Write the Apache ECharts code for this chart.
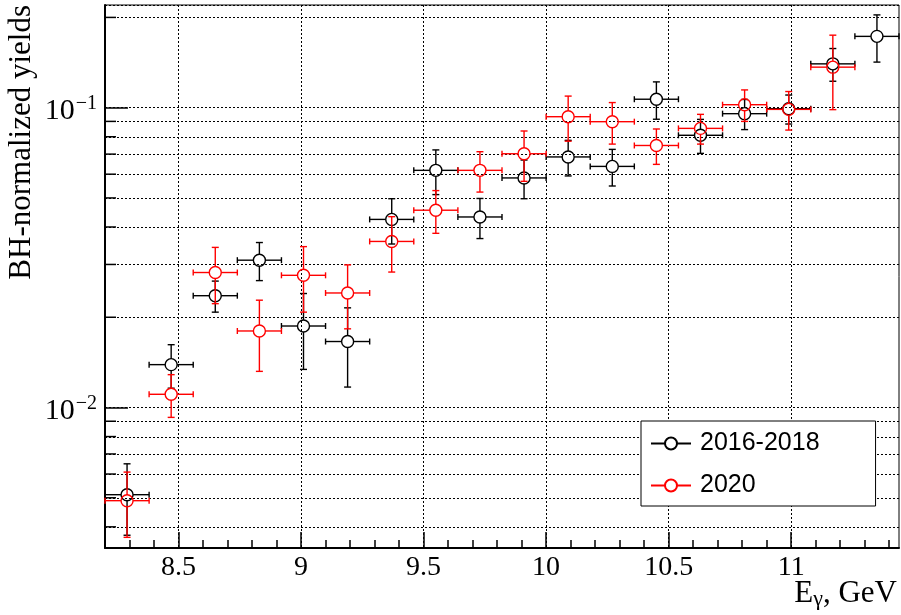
<!DOCTYPE html>
<html>
<head>
<meta charset="utf-8">
<script src="https://cdn.jsdelivr.net/npm/echarts@6/dist/echarts.min.js"></script>
<style>
  html, body { margin: 0; padding: 0; background: #fff; }
  #chart { width: 901px; height: 615px; }
</style>
</head>
<body>
<div id="chart"></div>
<script>
// Photon-energy bin centres (GeV); every bin is 0.18 GeV wide
const energies = [8.29, 8.47, 8.65, 8.83, 9.01, 9.19, 9.37, 9.55, 9.73, 9.91,
                  10.09, 10.27, 10.45, 10.63, 10.81, 10.99, 11.17, 11.35];
const binHalfWidth = 0.09;

// 2016-2018 run: BH-normalized yields and their uncertainties
const yields2016 = [0.00512, 0.0139, 0.0236, 0.0310, 0.0187, 0.0166, 0.0424, 0.0618, 0.0432, 0.0583,
                    0.0685, 0.0637, 0.1067, 0.0809, 0.0955, 0.0992, 0.1400, 0.1729];
const errors2016 = [0.00137, 0.0023, 0.0028, 0.0045, 0.0053, 0.0049, 0.0073, 0.0105, 0.0066, 0.0086,
                    0.0093, 0.0089, 0.0152, 0.0105, 0.0110, 0.0110, 0.0175, 0.0310];

// 2020 run
const yields2020 = [0.00489, 0.01107, 0.0282, 0.0180, 0.0276, 0.0241, 0.0358, 0.0455, 0.0618, 0.0702,
                    0.0933, 0.0898, 0.0748, 0.0853, 0.1023, 0.0987, 0.1365];
const errors2020 = [0.0012, 0.0018, 0.0060, 0.0048, 0.0068, 0.0058, 0.0075, 0.0074, 0.0095, 0.0134,
                    0.0160, 0.0142, 0.0101, 0.0097, 0.0123, 0.0145, 0.0380];

// Axis ranges and tick positions
const xRange = [8.2, 11.44];
const yRange = [0.0034, 0.22];
const xMajorTicks = [8.5, 9, 9.5, 10, 10.5, 11];
const xMinorTicks = [8.3, 8.4, 8.6, 8.7, 8.8, 8.9, 9.1, 9.2, 9.3, 9.4, 9.6, 9.7, 9.8, 9.9,
                     10.1, 10.2, 10.3, 10.4, 10.6, 10.7, 10.8, 10.9, 11.1, 11.2, 11.3, 11.4];
const yMinorTicks = [0.004, 0.005, 0.006, 0.007, 0.008, 0.009,
                     0.02, 0.03, 0.04, 0.05, 0.06, 0.07, 0.08, 0.09, 0.2];

const seriesNames = ['2016-2018', '2020'];
const seriesColors = ['#000000', '#ff0000'];

const dotted = { color: '#000', width: 1, type: [2, 2] };
const serif = '"Liberation Serif", "Times New Roman", serif';

// Open-circle marker with x/y error bars (bars stop at the marker edge)
function errorBarSeries(name, color, ys, es) {
  return {
    type: 'custom',
    name: name + ' points',
    coordinateSystem: 'cartesian2d',
    data: ys.map((y, i) => [energies[i], y, es[i]]),
    encode: { x: 0, y: 1 },
    z: 5,
    renderItem: function (params, api) {
      const x = api.value(0), y = api.value(1), e = api.value(2);
      const c = api.coord([x, y]);
      const l = api.coord([x - binHalfWidth, y]);
      const r = api.coord([x + binHalfWidth, y]);
      const t = api.coord([x, y + e]);
      const b = api.coord([x, y - e]);
      const R = 6, capH = 3, capV = 3.5;
      const st = { stroke: color, lineWidth: 1.4, fill: 'none' };
      const kids = [];
      const seg = (x1, y1, x2, y2) => kids.push({ type: 'line', shape: { x1, y1, x2, y2 }, style: st });
      if (c[0] - l[0] > R) seg(l[0], c[1], c[0] - R, c[1]);
      if (r[0] - c[0] > R) seg(c[0] + R, c[1], r[0], c[1]);
      seg(l[0], c[1] - capH, l[0], c[1] + capH);
      seg(r[0], c[1] - capH, r[0], c[1] + capH);
      if (c[1] - t[1] > R) seg(c[0], t[1], c[0], c[1] - R);
      if (b[1] - c[1] > R) seg(c[0], c[1] + R, c[0], b[1]);
      seg(c[0] - capV, t[1], c[0] + capV, t[1]);
      seg(c[0] - capV, b[1], c[0] + capV, b[1]);
      kids.push({ type: 'circle', shape: { cx: c[0], cy: c[1], r: R }, style: st });
      return { type: 'group', children: kids };
    }
  };
}

const chart = echarts.init(document.getElementById('chart'), null, { renderer: 'canvas' });

chart.setOption({
  animation: false,
  backgroundColor: '#fff',
  grid: {
    left: 105, top: 5, width: 794, height: 543,
    show: true, borderColor: '#000', borderWidth: 1, backgroundColor: 'transparent'
  },
  xAxis: [
    {
      type: 'value', min: xRange[0], max: xRange[1], position: 'bottom',
      axisLine: { show: true, onZero: false, lineStyle: { color: '#000', width: 2 } },
      axisTick: { show: true, inside: true, length: 8, customValues: xMinorTicks,
                  lineStyle: { color: '#000', width: 1.5 } },
      axisLabel: { show: false },
      splitLine: { show: false }
    },
    {
      type: 'value', min: xRange[0], max: xRange[1], position: 'bottom', offset: 0,
      axisLine: { show: false },
      axisTick: { show: true, inside: true, length: 16, customValues: xMajorTicks,
                  lineStyle: { color: '#000', width: 1.5 } },
      axisLabel: { show: true, customValues: xMajorTicks, margin: 6, color: '#000',
                   fontFamily: serif, fontSize: 28, formatter: v => String(v) },
      splitLine: { show: true, lineStyle: dotted }
    }
  ],
  yAxis: {
    type: 'log', logBase: 10, min: yRange[0], max: yRange[1], position: 'left',
    axisLine: { show: true, onZero: false, lineStyle: { color: '#000', width: 2 } },
    axisTick: { show: true, inside: true, length: 23, lineStyle: { color: '#000', width: 1.5 } },
    axisLabel: {
      showMinLabel: false, showMaxLabel: false, margin: 8, color: '#000',
      fontFamily: serif, fontSize: 30,
      formatter: function (v) {
        const p = Math.log10(v);
        if (Math.abs(p - Math.round(p)) > 1e-6) return '';
        return '{b|10}{sup|\u2212' + Math.abs(Math.round(p)) + '}';
      },
      rich: {
        b: { fontFamily: serif, fontSize: 30, lineHeight: 30, color: '#000', padding: [7, 0, 0, 0] },
        sup: { fontFamily: serif, fontSize: 20, lineHeight: 20, color: '#000', verticalAlign: 'top', padding: [1, 0, 0, 1] }
      }
    },
    splitLine: { show: true, lineStyle: dotted }
  },
  legend: {
    data: seriesNames, orient: 'vertical', left: 641, top: 421,
    padding: [10, 56, 8, 9], itemGap: 17, itemWidth: 40, itemHeight: 15,
    backgroundColor: '#fff', borderColor: '#000', borderWidth: 1,
    textStyle: { fontFamily: '"Liberation Sans", Arial, sans-serif', fontSize: 25, lineHeight: 25,
                 color: '#000', padding: [0, 0, 0, 4] },
    selectedMode: false, z: 10
  },
  graphic: [
    {
      type: 'text', x: 22, y: 5, rotation: Math.PI / 2,
      style: { text: 'BH-normalized yields', fill: '#000', font: '31px "Liberation Serif"',
               textAlign: 'right', textVerticalAlign: 'middle', align: 'right', verticalAlign: 'middle' }
    },
    {
      type: 'text', x: 897, y: 594,
      style: {
        text: '{m|E}{s|\u03b3}{m|, GeV}', fill: '#000', font: '31px "Liberation Serif"',
        textAlign: 'right', textVerticalAlign: 'middle', align: 'right', verticalAlign: 'middle',
        rich: {
          m: { fontFamily: 'Liberation Serif', fontSize: 31, lineHeight: 31, fill: '#000' },
          s: { fontFamily: 'Liberation Serif', fontSize: 22, lineHeight: 22, fill: '#000', padding: [10, 0, 0, 0] }
        }
      }
    }
  ],
  series: [
    // legend entries (line + open circle icon)
    { type: 'line', name: seriesNames[0], data: [], symbol: 'emptyCircle', symbolSize: 12,
      color: seriesColors[0], lineStyle: { width: 1.3, color: seriesColors[0] } },
    { type: 'line', name: seriesNames[1], data: [], symbol: 'emptyCircle', symbolSize: 12,
      color: seriesColors[1], lineStyle: { width: 1.3, color: seriesColors[1] } },
    // minor logarithmic ticks and their grid lines
    {
      type: 'custom', name: 'minor-y', silent: true, z: 1,
      data: yMinorTicks.map(v => [xRange[0], v]),
      encode: { x: 0, y: 1 },
      renderItem: function (params, api) {
        const p = api.coord([api.value(0), api.value(1)]);
        const y = Math.round(p[1]) + 0.5;
        const cs = params.coordSys;
        return {
          type: 'group',
          children: [
            { type: 'line', shape: { x1: cs.x, y1: y, x2: cs.x + cs.width, y2: y },
              style: { stroke: '#000', lineWidth: 1, lineDash: [2, 2] } },
            { type: 'line', shape: { x1: cs.x, y1: p[1], x2: cs.x + 11, y2: p[1] },
              style: { stroke: '#000', lineWidth: 1.5 } }
          ]
        };
      }
    },
    errorBarSeries(seriesNames[0], seriesColors[0], yields2016, errors2016),
    errorBarSeries(seriesNames[1], seriesColors[1], yields2020, errors2020)
  ]
});
</script>
</body>
</html>
